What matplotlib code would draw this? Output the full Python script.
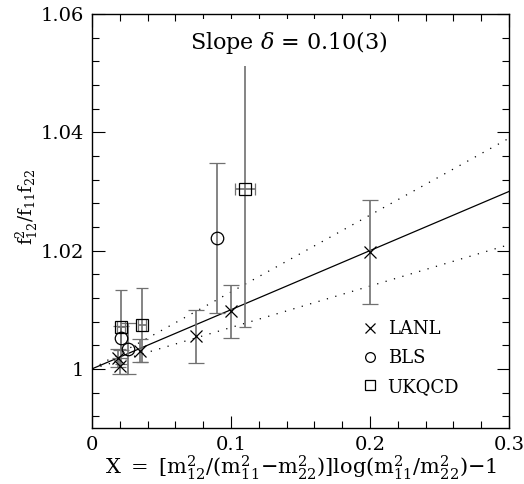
import matplotlib
matplotlib.use("Agg")
import matplotlib.pyplot as plt
from matplotlib.lines import Line2D
from matplotlib.ticker import MultipleLocator, FuncFormatter
import numpy as np

plt.rcParams['font.family'] = ['DejaVu Serif']
plt.rcParams['mathtext.fontset'] = 'dejavuserif'

# Data
lanl_x = [0.019, 0.020, 0.0345, 0.075, 0.100, 0.200]
lanl_y = [1.0018, 1.0005, 1.0031, 1.0055, 1.0097, 1.0197]
lanl_err = [0.0015, 0.0013, 0.0020, 0.0045, 0.0045, 0.0088]

bls_x = [0.021, 0.0257, 0.0897]
bls_y = [1.0052, 1.0034, 1.0221]
bls_err = [0.0020, 0.0043, 0.0127]

ukqcd_x = [0.021, 0.036, 0.110]
ukqcd_y = [1.0071, 1.0074, 1.0304]
ukqcd_yerr = [0.0062, 0.0063, 0.0233]
ukqcd_xerr = [0.003, 0.003, 0.0072]

slope = 0.10
slope_err = 0.03
fit_x = [0.0, 0.3]

fig = plt.figure(figsize=(5.24, 4.84), dpi=100)
ax = fig.add_axes([0.1756, 0.1157, 0.7958, 0.8553])

ecol = '#707070'
fx = np.array(fit_x)
ax.plot(fx, 1 + slope * fx, color='k', lw=0.9, zorder=2)
ax.plot(fx, 1 + (slope + slope_err) * fx, color='k', lw=0.9, ls=(0, (1, 6)), zorder=2)
ax.plot(fx, 1 + (slope - slope_err) * fx, color='k', lw=0.9, ls=(0, (1, 6)), zorder=2)

ax.errorbar(lanl_x, lanl_y, yerr=lanl_err, fmt='x', color='k', ms=9, mew=0.9,
            ecolor=ecol, elinewidth=1.2, capsize=6, capthick=1.2, zorder=3)
ax.errorbar(bls_x, bls_y, yerr=bls_err, fmt='o', mfc='none', mec='k', ms=9, mew=0.9,
            ecolor=ecol, elinewidth=1.2, capsize=6, capthick=1.2, zorder=3)
ax.errorbar(ukqcd_x, ukqcd_y, yerr=ukqcd_yerr, xerr=ukqcd_xerr, fmt='s', mfc='none',
            mec='k', ms=8, mew=0.9, ecolor=ecol, elinewidth=1.2, capsize=4,
            capthick=1.2, zorder=3)

ax.set_xlim(0, 0.3)
ax.set_ylim(0.99, 1.06)
ax.xaxis.set_major_locator(MultipleLocator(0.1))
ax.xaxis.set_minor_locator(MultipleLocator(0.02))
ax.yaxis.set_major_locator(MultipleLocator(0.02))
ax.yaxis.set_minor_locator(MultipleLocator(0.004))
fmt = FuncFormatter(lambda v, p: ('%.2f' % v).rstrip('0').rstrip('.') if abs(v - round(v)) > 1e-9 else '%d' % round(v))
ax.xaxis.set_major_formatter(fmt)
ax.yaxis.set_major_formatter(fmt)
ax.tick_params(which='both', direction='in', top=True, right=True, labelsize=14, width=0.8)
ax.tick_params(which='major', length=9, pad=6)
ax.tick_params(which='minor', length=5)
for s in ax.spines.values():
    s.set_linewidth(1.0)

ax.text(0.142, 1.0552, r'Slope $\delta$ = 0.10(3)', fontsize=16, ha='center', va='center',
        bbox=dict(facecolor='white', edgecolor='none', pad=7), zorder=5)

ax.set_xlabel(r'$\mathregular{X\ =\ [m^2_{12}/(m^2_{11}{-}m^2_{22})]log(m^2_{11}/m^2_{22}){-}1}$',
              fontsize=15, labelpad=-1)
ax.set_ylabel(r'$\mathregular{f^2_{12}/f_{11}f_{22}}$', fontsize=13)
ax.yaxis.set_label_coords(-0.125, 0.535)

handles = [Line2D([], [], marker='x', ls='none', color='k', ms=7, mew=0.9),
           Line2D([], [], marker='o', ls='none', mfc='none', mec='k', ms=7, mew=0.9),
           Line2D([], [], marker='s', ls='none', mfc='none', mec='k', ms=7, mew=0.9)]
ax.legend(handles, ['LANL', 'BLS', 'UKQCD'], loc='upper left', bbox_to_anchor=(0.605, 0.3),
          frameon=False, fontsize=13, handlelength=1.0, handletextpad=0.5, labelspacing=0.6)

fig.savefig('out.png', dpi=100)
